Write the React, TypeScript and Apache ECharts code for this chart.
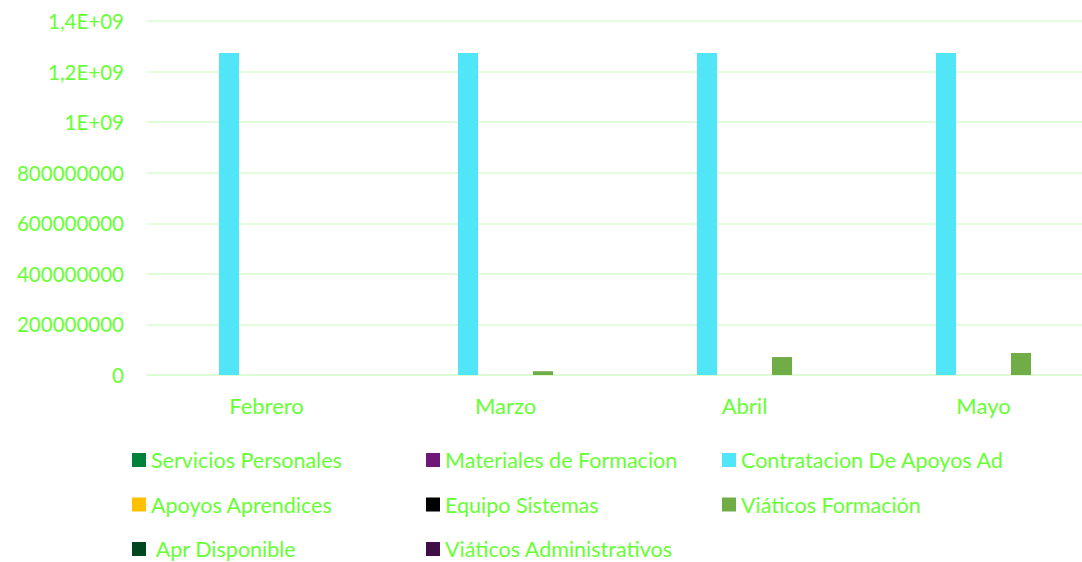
import React, { useEffect, useRef } from "react";
import * as echarts from "echarts";

const categories = ["Febrero", "Marzo", "Abril", "Mayo"];

const seriesNames = [
  "Servicios Personales",
  "Materiales de Formacion",
  "Contratacion De Apoyos Ad",
  "Apoyos Aprendices",
  "Equipo Sistemas",
  "Viáticos Formación",
  " Apr Disponible",
  "Viáticos Administrativos",
];

const serviciosPersonales = [0, 0, 0, 0];
const materialesFormacion = [0, 0, 0, 0];
const contratacionApoyos = [1273000000, 1273000000, 1273000000, 1273000000];
const apoyosAprendices = [0, 0, 0, 0];
const equipoSistemas = [0, 0, 0, 0];
const viaticosFormacion = [0, 15000000, 71000000, 87000000];
const aprDisponible = [0, 0, 0, 0];
const viaticosAdministrativos = [0, 0, 0, 0];

const seriesValues = [
  serviciosPersonales,
  materialesFormacion,
  contratacionApoyos,
  apoyosAprendices,
  equipoSistemas,
  viaticosFormacion,
  aprDisponible,
  viaticosAdministrativos,
];

const seriesColors = [
  "#00823C",
  "#701878",
  "#50E6F8",
  "#FFC000",
  "#000000",
  "#70AD47",
  "#004620",
  "#400E46",
];

const yTickLabels = [
  "0",
  "200000000",
  "400000000",
  "600000000",
  "800000000",
  "1E+09",
  "1,2E+09",
  "1,4E+09",
];

const legendColumns = [
  [seriesNames[0], seriesNames[3], seriesNames[6]],
  [seriesNames[1], seriesNames[4], seriesNames[7]],
  [seriesNames[2], seriesNames[5]],
];
const legendLefts = [132, 426, 722];

const TEXT_GREEN = "#66FF33";
const GRID_GREEN = "#DAFBD0";
const FONT = "Lato, 'Noto Sans', sans-serif";

export default function App() {
  const ref = useRef<HTMLDivElement>(null);

  useEffect(() => {
    if (!ref.current) return;
    const chart = echarts.init(ref.current, undefined, { renderer: "svg" });
    const option: any = {
      animation: false,
      backgroundColor: "#ffffff",
      textStyle: { fontFamily: FONT },
      grid: {
        left: 147,
        top: 21,
        width: 956,
        height: 354,
        containLabel: false,
        outerBoundsMode: "none",
      },
      legend: legendColumns.map((col, i) => ({
        orient: "vertical",
        left: legendLefts[i],
        top: 449,
        padding: 0,
        itemGap: 22.5,
        itemWidth: 14,
        itemHeight: 14,
        icon: "rect",
        selectedMode: true,
        data: col,
        textStyle: {
          color: TEXT_GREEN,
          fontSize: 21.5,
          lineHeight: 22,
          fontFamily: FONT,
        },
      })),
      xAxis: {
        type: "category",
        data: categories,
        axisLine: { show: true, lineStyle: { color: GRID_GREEN, width: 1.5 } },
        axisTick: { show: false },
        axisLabel: { color: TEXT_GREEN, fontSize: 22, margin: 19, fontFamily: FONT },
      },
      yAxis: {
        type: "value",
        min: 0,
        max: 1400000000,
        interval: 200000000,
        axisLine: { show: false },
        axisTick: { show: false },
        splitLine: { lineStyle: { color: GRID_GREEN, width: 1.5 } },
        axisLabel: {
          color: TEXT_GREEN,
          fontSize: 20.5,
          margin: 23,
          fontFamily: FONT,
          formatter: (v: number) => yTickLabels[Math.round(v / 200000000)] ?? String(v),
        },
      },
      series: seriesNames.map((name, i) => ({
        name,
        type: "bar",
        data: seriesValues[i],
        barWidth: 20,
        barGap: "25%",
        itemStyle: { color: seriesColors[i] },
      })),
    };
    chart.setOption(option);
    return () => chart.dispose();
  }, []);

  return (
    <div
      ref={ref}
      style={{ position: "absolute", left: 0, top: 0, width: 1082, height: 562, overflow: "hidden" }}
    />
  );
}
